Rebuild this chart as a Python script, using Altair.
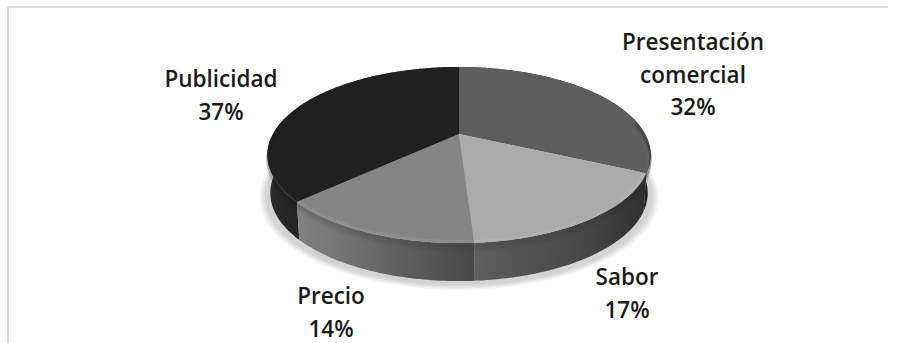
import math
import altair as alt
import pandas as pd

# Pie contents, clockwise from twelve o'clock
names = ["Presentación comercial", "Sabor", "Precio", "Publicidad"]
shares = [32, 17, 14, 37]
label_lines = [["Presentación", "comercial"], ["Sabor"], ["Precio"], ["Publicidad"]]
label_x = [693, 627, 331, 221]
label_first_y = [43, 278, 297, 80]
top_colors = ["#5e5e5e", "#ababab", "#858585", "#202020"]
side_stops = [
    [("#4a4a4a", 0.0), ("#202020", 1.0)],
    [("#5e5e5e", 0.0), ("#444444", 0.7), ("#2e2e2e", 1.0)],
    [("#828282", 0.0), ("#5e5e5e", 0.6), ("#484848", 1.0)],
    [("#2a2a2a", 0.0), ("#181818", 0.5), ("#1a1a1a", 1.0)],
]

W, H = 897, 343
CX, CY, RX, RY, TILT = 459.0, 134.0, 186.0, 83.0, -0.239
DEPTH = 38.0


def rim(angle, scale=1.0, drop=0.0, shrink=1.0):
    """Project a point of the tilted disc; angle in radians, clockwise from the top."""
    u, v = math.sin(angle) * scale, -math.cos(angle) * scale
    w = 1 + TILT * v
    return CX + RX * shrink * u / w, CY + RY * v / w + drop


def arc(a0, a1, scale=1.0, drop=0.0, shrink=1.0, step=1.0):
    n = max(2, int(abs(a1 - a0) * 180 / math.pi / step))
    return [rim(a0 + (a1 - a0) * i / n, scale, drop, shrink) for i in range(n + 1)]


def frame(points):
    return pd.DataFrame([{"x": x, "y": y, "i": i} for i, (x, y) in enumerate(points)])


xs = alt.X("x:Q", scale=alt.Scale(domain=[0, W]), axis=None)
ys = alt.Y("y:Q", scale=alt.Scale(domain=[H, 0]), axis=None)


def polygon(points, **mark):
    return alt.Chart(frame(points + points[:1])).mark_line(strokeWidth=0, **mark).encode(
        x=xs, y=ys, order="i:Q"
    )


def stroke_line(points, color, width, opacity):
    return alt.Chart(frame(points)).mark_line(
        color=color, strokeWidth=width, opacity=opacity, strokeCap="butt"
    ).encode(x=xs, y=ys, order="i:Q")


layers = []

# Frame of the chart area
layers.append(stroke_line([(8, 7), (888, 7)], "#dcdcdc", 2, 1))
layers.append(stroke_line([(8, 7), (8, 343)], "#dcdcdc", 2, 1))

# Soft shadow under the disc
full = 2 * math.pi
for grow, op in [(1.04, 0.14), (1.03, 0.18), (1.02, 0.22), (1.01, 0.26)]:
    layers.append(polygon(arc(0, full, grow, DEPTH + 3, 1.0), fill="#b5b5b5", opacity=op))

# Walls and top faces, slice by slice
edges = [0.0]
for s in shares:
    edges.append(edges[-1] + s / 100 * full)

for k in [3, 0, 1, 2]:
    a0, a1 = edges[k], edges[k + 1]
    wall = arc(a0, a1) + arc(a1, a0, 1.0, DEPTH, 0.985)
    stops = [alt.GradientStop(color=c, offset=o) for c, o in side_stops[k]]
    grad = alt.Gradient(gradient="linear", stops=stops, x1=0, x2=1, y1=0, y2=0)
    layers.append(polygon(wall, fill=grad))

for k in range(4):
    a0, a1 = edges[k], edges[k + 1]
    layers.append(polygon([(CX, CY)] + arc(a0, a1), fill=top_colors[k]))

# Rounded bevel along the front of the rim
for k, glow, shade, strength in [
    (1, "#c4c4c4", "#2c2c2c", 0.5),
    (2, "#a8a8a8", "#303030", 0.5),
    (0, "#6a6a6a", "#202020", 0.6),
    (3, "#262626", "#111111", 0.35),
]:
    a0, a1 = edges[k], edges[k + 1]
    lo = max(a0, math.radians(80))
    hi = min(a1, math.radians(280))
    if hi <= lo:
        continue
    layers.append(stroke_line(arc(lo, hi, 0.99), glow, 3, 0.25))
    for dr, op in [(2, 0.45), (4, 0.3), (6, 0.18), (8, 0.08)]:
        layers.append(stroke_line(arc(lo, hi, 1.0, dr), shade, 2.2, op * strength))

# Category and percentage labels
rows = []
for lines, lx, ly, s in zip(label_lines, label_x, label_first_y, shares):
    for j, t in enumerate(lines + [f"{s}%"]):
        rows.append({"x": lx, "y": ly + j * 32.5, "t": t})
layers.append(
    alt.Chart(pd.DataFrame(rows))
    .mark_text(font="Open Sans", fontSize=22.5, fontWeight=600, color="#1a1a1a", align="center", baseline="middle")
    .encode(x=xs, y=ys, text="t:N")
)

chart = (
    alt.layer(*layers)
    .properties(width=W, height=H, padding=0, autosize=alt.AutoSizeParams(type="none"), background="white")
    .configure_view(stroke=None)
)
chart.save("out.html", embed_options={"renderer": "svg", "actions": False})
